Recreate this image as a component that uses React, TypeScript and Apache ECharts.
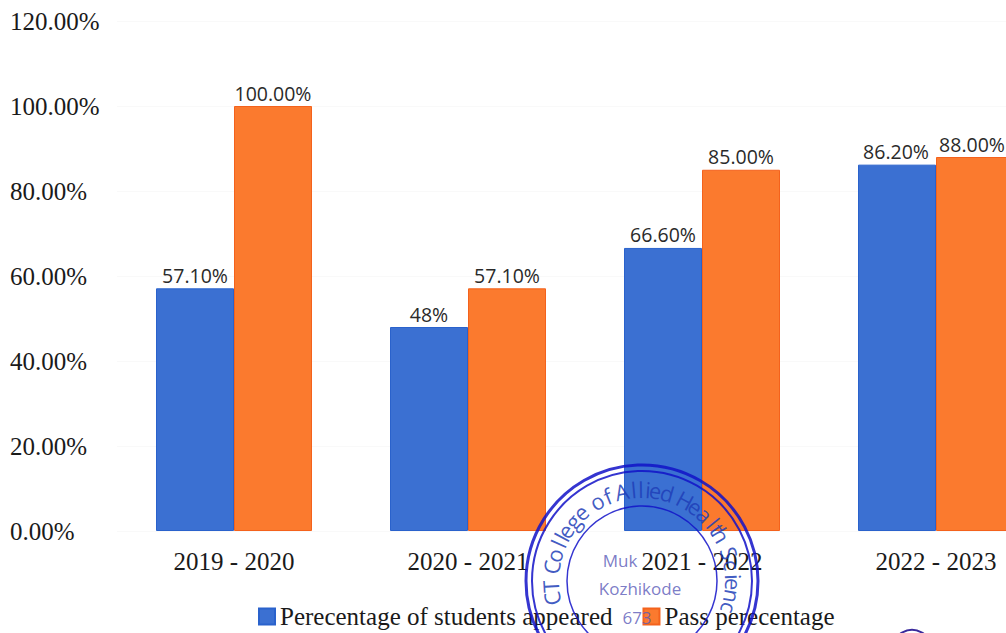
import React, { useEffect, useRef } from "react";
import * as echarts from "echarts";

const categories = ["2019 - 2020", "2020 - 2021", "2021 - 2022", "2022 - 2023"];
const appeared = [57.1, 48, 66.6, 86.2];
const passed = [100, 57.1, 85, 88];
const appearedLabels = ["57.10%", "48%", "66.60%", "86.20%"];
const passedLabels = ["100.00%", "57.10%", "85.00%", "88.00%"];
const seriesNames = ["Perecentage of students appeared", "Pass perecentage"];
const stampRing = "CT College of Allied Health Scienc";
const stampCentre = ["Muk", "Kozhikode", "673"];

const SERIF = "'Liberation Serif', serif";
const SANS = "'Open Sans', sans-serif";
const INK = "#1212c8";

function stampElements() {
  const cx = 642;
  const cy = 581;
  const els: any[] = [];
  [[116, 3], [110, 2], [75, 1.5]].forEach(([r, w]) => {
    els.push({ type: "circle", shape: { cx, cy, r }, style: { fill: "none", stroke: INK, lineWidth: w, opacity: 0.85 }, z: 50 });
  });
  let deg = -101;
  stampRing.split("").forEach((ch) => {
    const rad = (deg * Math.PI) / 180;
    deg += 7.6 * (" ltif".includes(ch) ? 0.6 : 1);
    if (ch === " ") return;
    els.push({
      type: "text",
      x: cx + 92 * Math.sin(rad),
      y: cy - 92 * Math.cos(rad),
      rotation: -rad,
      style: { text: ch, fontFamily: SANS, fontSize: 22, fill: "#1f3fb8", opacity: 0.85, align: "center", verticalAlign: "middle" },
      z: 50,
    });
  });
  stampCentre.forEach((t, i) => {
    els.push({
      type: "text",
      x: [620, 640, 637][i],
      y: [560, 588, 617][i],
      style: { text: t, fontFamily: SANS, fontSize: 17, fill: "#5a5ab8", opacity: 0.8, align: "center", verticalAlign: "middle" },
      z: 60,
    });
  });
  els.push({ type: "circle", shape: { cx: 912, cy: 650, r: 20 }, style: { fill: "none", stroke: "#3a2a9c", lineWidth: 2 }, z: 50 });
  return els;
}

export default function App() {
  const ref = useRef<HTMLDivElement>(null);
  useEffect(() => {
    document.body.style.margin = "0";
    const chart = echarts.init(ref.current!, null, { renderer: "svg" });
    const makeSeries = (name: string, data: number[], labels: string[], fill: string, edge: string, lastShift: number) => ({
      name,
      type: "bar",
      data: data.map((value, i) =>
        i === data.length - 1 ? { value, label: { offset: [lastShift, 0] } } : value
      ),
      barWidth: 78,
      barGap: 0,
      itemStyle: { color: fill, borderColor: edge, borderWidth: 1 },
      label: {
        show: true,
        position: "top",
        distance: 3,
        fontFamily: SANS,
        fontSize: 19.5,
        color: "#2a2a2a",
        formatter: (p: any) => labels[p.dataIndex],
      },
    });
    chart.setOption({
      animation: false,
      backgroundColor: "#ffffff",
      grid: { left: 117, top: 21, width: 936, height: 510, outerBoundsMode: "none" },
      legend: {
        left: 253,
        top: 599,
        itemWidth: 16,
        itemHeight: 16,
        itemGap: 30,
        icon: "rect",
        textStyle: { fontFamily: SERIF, fontSize: 25, color: "#1a1a1a" },
        data: seriesNames,
      },
      xAxis: {
        type: "category",
        data: categories,
        axisLine: { show: false },
        axisTick: { show: false },
        axisLabel: { fontFamily: SERIF, fontSize: 25, color: "#1a1a1a", margin: 18 },
      },
      yAxis: {
        type: "value",
        min: 0,
        max: 120,
        interval: 20,
        axisLine: { show: false },
        axisTick: { show: false },
        splitLine: { lineStyle: { color: "#f9f9f9", width: 1 } },
        axisLabel: {
          fontFamily: SERIF,
          fontSize: 25,
          color: "#1a1a1a",
          margin: 107,
          align: "left",
          formatter: (v: number) => v.toFixed(2) + "%",
        },
      },
      series: [
        makeSeries(seriesNames[0], appeared, appearedLabels, "#3b70d2", "#2a62cc", -1),
        makeSeries(seriesNames[1], passed, passedLabels, "#fb7a2e", "#f4621c", -3),
      ],
      graphic: stampElements(),
    });
    return () => chart.dispose();
  }, []);
  return <div ref={ref} style={{ width: 1006, height: 633, overflow: "hidden" }} />;
}
